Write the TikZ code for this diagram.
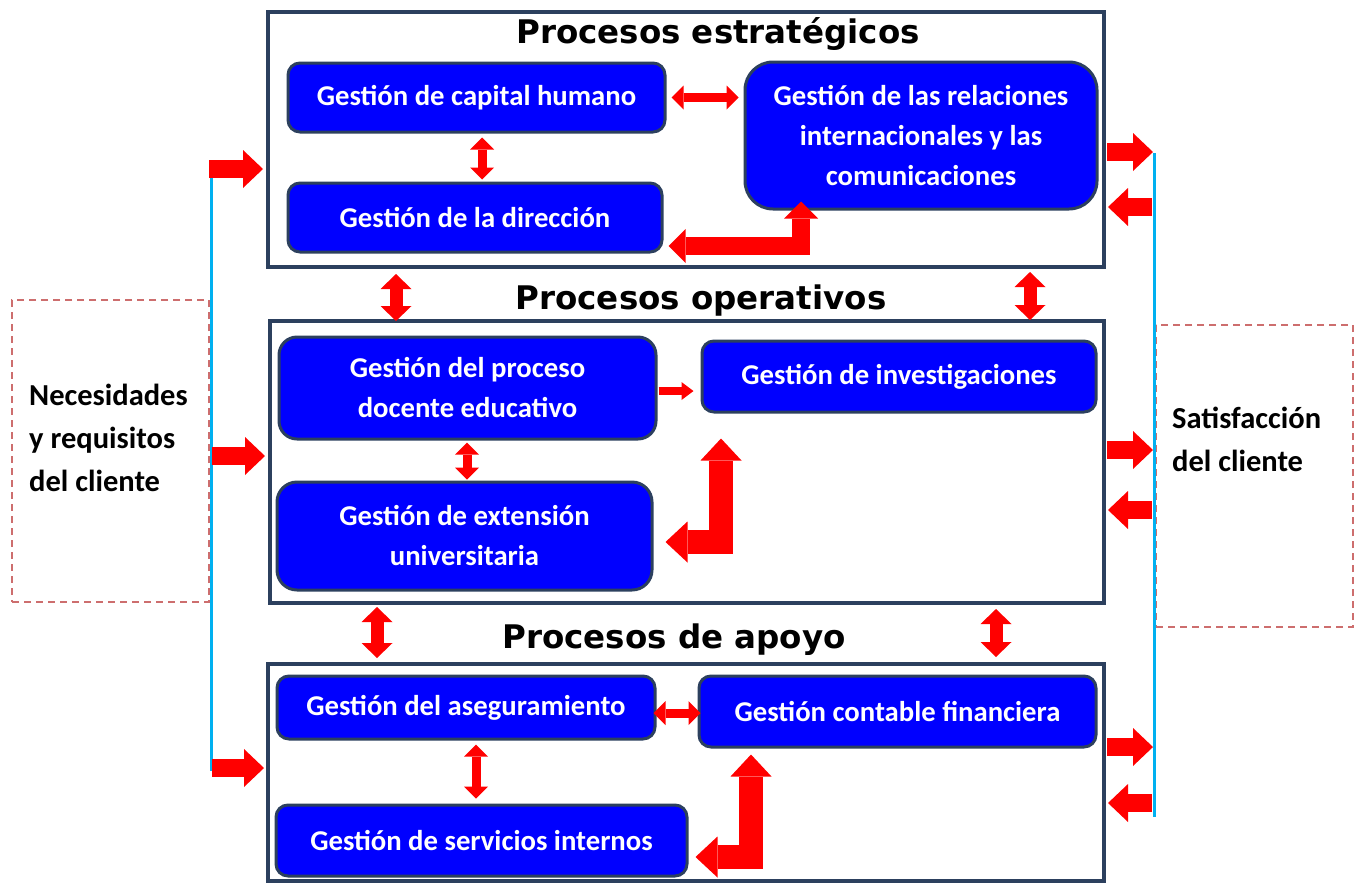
\documentclass[tikz,border=0pt]{standalone}
\usepackage{fontspec}
\setmainfont{Carlito}
\newfontfamily\titlefam{DejaVu Sans}
\usetikzlibrary{arrows.meta,calc}
\definecolor{navy}{RGB}{44,64,94}
\definecolor{pblue}{RGB}{0,0,255}
\definecolor{cyanline}{RGB}{0,176,240}
\definecolor{dashred}{RGB}{205,110,110}
\definecolor{ared}{RGB}{255,0,0}
\begin{document}
\begin{tikzpicture}[x=1pt,y=-1pt,
 container/.style={draw=navy, line width=4pt, inner sep=0pt},
 bluebox/.style={draw=navy, fill=pblue, line width=3pt, rounded corners=12pt, text=white, align=center, inner sep=0pt, font=\fontsize{28.7}{40}\selectfont\bfseries},
 titletext/.style={font=\titlefam\fontsize{32.5}{38}\selectfont\bfseries, anchor=base, inner sep=0pt},
 sidetext/.style={font=\fontsize{30.5}{43}\selectfont\bfseries, align=left, inner sep=0pt},
 dashbox/.style={draw=dashred, line width=1.3pt, dash pattern=on 7pt off 5pt},
 feed/.style={draw=cyanline, line width=3pt},
 dbl/.style n args={3}{draw=ared, line width=#1, line join=miter, arrows={Triangle[length=#3,width=#2,line width=0pt]-Triangle[length=#3,width=#2,line width=0pt]}},
 sgl/.style n args={3}{draw=ared, line width=#1, arrows={-Triangle[length=#3,width=#2,line width=0pt]}},
 smallarr/.style={dbl={9pt}{24pt}{12pt}},
 midarr/.style={dbl={13pt}{31pt}{15pt}},
 tinyarr/.style={sgl={8pt}{18pt}{12pt}},
 Ltop/.style={dbl={18pt}{34pt}{17pt}},
 Lbig/.style={dbl={24pt}{41pt}{22pt}},
 sidearr/.style={sgl={18pt}{38pt}{20pt}}
]
\useasboundingbox (0,0) rectangle (1357,884);
\fill[white] (0,0) rectangle (1357,884);

% dashed side boxes
\node[dashbox, minimum width=197pt, minimum height=302pt] (need) at (110.5,451) {};
\node[dashbox, minimum width=197pt, minimum height=302pt] (sat) at (1254.5,476) {};
\node[sidetext, anchor=north west] (needt) at (29,384) {Necesidades\\y requisitos\\del cliente};
\node[sidetext, anchor=north west] (satt) at (1172,407) {Satisfacción\\del cliente};

% feedback lines
\coordinate (lt) at (211,166);
\coordinate (lb) at (211,771);
\coordinate (rt) at (1154,153);
\coordinate (rb) at (1154,817);
\draw[feed] (lt) -- (lb);
\draw[feed] (rt) -- (rb);

% containers
\node[container, minimum width=836pt, minimum height=255pt] (strat) at (686,139.5) {};
\node[container, minimum width=834pt, minimum height=282pt] (oper) at (687,462) {};
\node[container, minimum width=836pt, minimum height=217pt] (apoyo) at (686,772.5) {};

% titles
\node[titletext] (t1) at (718,43) {Procesos estratégicos};
\node[titletext] (t2) at (701,309) {Procesos operativos};
\node[titletext] (t3) at (674,648) {Procesos de apoyo};

% process boxes
\node[bluebox, minimum width=377pt, minimum height=69pt] (cap) at (476.5,97.5) {Gestión de capital humano};
\node[bluebox, minimum width=374pt, minimum height=69pt] (dir) at (475,217.5) {Gestión de la dirección};
\node[bluebox, rounded corners=28pt, minimum width=352pt, minimum height=147pt] (rel) at (921,135.5) {Gestión de las relaciones\\internacionales y las\\comunicaciones};
\node[bluebox, rounded corners=18pt, minimum width=377pt, minimum height=102pt] (doc) at (467.5,388) {Gestión del proceso\\docente educativo};
\node[bluebox, minimum width=394pt, minimum height=71pt] (inv) at (899,376.5) {Gestión de investigaciones};
\node[bluebox, rounded corners=20pt, minimum width=375pt, minimum height=108pt] (ext) at (464.5,536) {Gestión de extensión\\universitaria};
\node[bluebox, minimum width=378pt, minimum height=63pt] (ase) at (466,707.5) {Gestión del aseguramiento};
\node[bluebox, minimum width=397pt, minimum height=71pt] (con) at (897.5,711.5) {Gestión contable financiera};
\node[bluebox, minimum width=411pt, minimum height=71pt] (ser) at (481.5,840.5) {Gestión de servicios internos};

% arrows inside strategic
\draw[smallarr] ([shift={(5,0)}]cap.east) -- ($(cap.east -| rel.west)+(-5,0)$);
\draw[smallarr] ([shift={(5.5,4)}]cap.south) -- ($(cap.south |- dir.north)+(5.5,-2)$);
\draw[Ltop] ([shift={(5,28.5)}]dir.east) -| ([shift={(57.5,-9)}]rel.south west);

% arrows between sections
\draw[midarr] ([shift={(130,5)}]strat.south west) -- ($(strat.south west |- oper.north)+(130,2)$);
\draw[midarr] ([shift={(-76,3)}]strat.south east) -- ($(strat.south east |- oper.north)+(-76,1)$);
\draw[midarr] ([shift={(109,2)}]oper.south west) -- ($(oper.south west |- apoyo.north)+(109,-4)$);
\draw[midarr] ([shift={(-110,4)}]oper.south east) -- ($(oper.south east |- apoyo.north)+(-110,-5)$);

% arrows inside operative
\draw[tinyarr] ([shift={(1,3)}]doc.east) -- ($(doc.east -| inv.west)+(-7,3)$);
\draw[smallarr] ([shift={(-0.5,2)}]doc.south) -- ($(doc.south |- ext.north)+(-0.5,-1)$);
\draw[Lbig] ([shift={(12,6)}]ext.east) -| ([shift={(20.5,25)}]inv.south west);

% arrows inside support
\draw[smallarr] ([shift={(-3,5.5)}]ase.east) -- ($(ase.east -| con.west)+(3,5.5)$);
\draw[smallarr] ([shift={(10,4)}]ase.south) -- ($(ase.south |- ser.north)+(10,-5)$);
\draw[Lbig] ([shift={(7,16.5)}]ser.east) -| ([shift={(53.5,6)}]con.south west);

% left inputs
\coordinate (l1) at (209,169);
\coordinate (l2) at (212,456);
\coordinate (l3) at (212,768);
\draw[sidearr] (l1) -- ($(l1 -| strat.west)+(-3,0)$);
\draw[sidearr] (l2) -- ($(l2 -| oper.west)+(-3,0)$);
\draw[sidearr] (l3) -- ($(l3 -| apoyo.west)+(-2,0)$);

% right outputs / feedback
\coordinate (r1) at (1153,152);
\coordinate (r2) at (1152,207);
\coordinate (r3) at (1153,450);
\coordinate (r4) at (1152,510);
\coordinate (r5) at (1153,747);
\coordinate (r6) at (1152,803);
\draw[sidearr] ($(r1 -| strat.east)+(1,0)$) -- (r1);
\draw[sidearr] (r2) -- ($(r2 -| strat.east)+(2,0)$);
\draw[sidearr] ($(r3 -| oper.east)+(1,0)$) -- (r3);
\draw[sidearr] (r4) -- ($(r4 -| oper.east)+(2,0)$);
\draw[sidearr] ($(r5 -| apoyo.east)+(1,0)$) -- (r5);
\draw[sidearr] (r6) -- ($(r6 -| apoyo.east)+(2,0)$);
\end{tikzpicture}
\end{document}
